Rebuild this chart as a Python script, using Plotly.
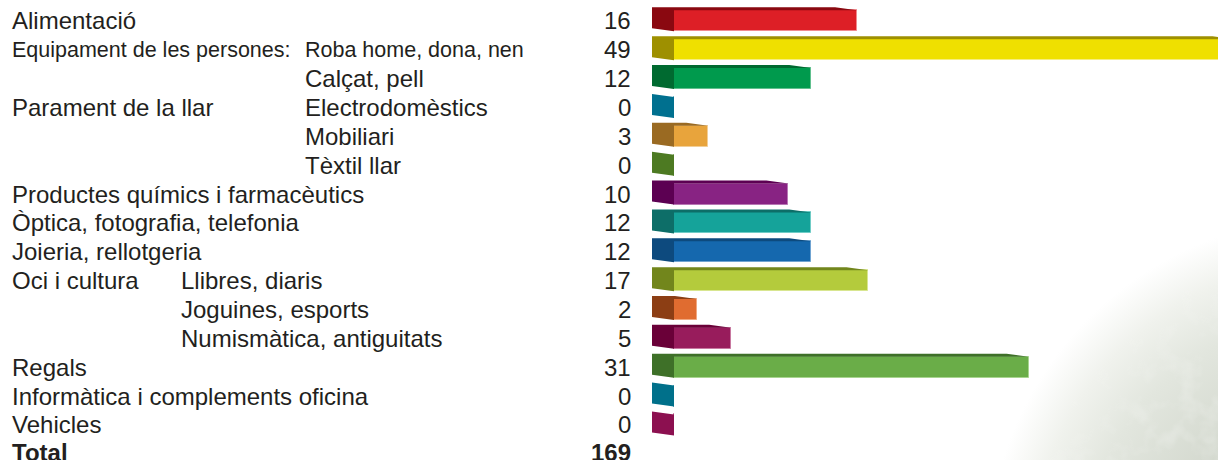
import base64
import plotly.graph_objects as go

# ---------------- data ----------------
groups = ["Alimentació", "Equipament de les persones:", "", "Parament de la llar", "", "",
          "Productes químics i farmacèutics", "Òptica, fotografia, telefonia",
          "Joieria, rellotgeria", "Oci i cultura", "", "", "Regals",
          "Informàtica i complements oficina", "Vehicles"]
subcategories = ["", "Roba home, dona, nen", "Calçat, pell", "Electrodomèstics", "Mobiliari",
                 "Tèxtil llar", "", "", "", "Llibres, diaris", "Joguines, esports",
                 "Numismàtica, antiguitats", "", "", ""]
values = [16, 49, 12, 0, 3, 0, 10, 12, 12, 17, 2, 5, 31, 0, 0]
total_label = "Total"
front_colors = ["#DD1F26", "#EFE000", "#009A4D", "#00708F", "#E8A43C", "#4D7A22",
                "#882383", "#15A39A", "#1568AE", "#B4CB3C", "#E06C30", "#981C5C",
                "#6AAD48", "#00708A", "#8C1050"]
side_colors = ["#8A0810", "#9E9000", "#006A30", "#00708F", "#9A6A22", "#4D7A22",
               "#5C0052", "#0D6E68", "#0D4A7E", "#72861C", "#8C3E14", "#6A0038",
               "#3E7028", "#00708A", "#8C1050"]
edge_colors = ["#F08A8E", "#F6EE80", "#60C08E", "#40A0B8", "#F2CE96", "#80A860",
               "#B878B4", "#70CCC6", "#70A4D2", "#D8E690", "#F0A880", "#C878A0",
               "#A8D490", "#40A0B8", "#C06090"]

# ---------------- geometry (layout) ----------------
W, H = 1218, 460
PPU = 11.44          # pixels per value unit
X0 = 674             # pixel of value 0
ROW0 = 20.8          # pixel centre of first row
PITCH = 28.87        # row pitch in pixels
BAR_H = 21 / PITCH   # front face height, row units
DEPTH_X = 22 / PPU   # oblique depth, value units
DEPTH_Y = 3 / PITCH  # oblique rise, row units

TEXT = "#231F20"
FONT = "Liberation Sans, Arial, Helvetica, sans-serif"
FS = 24
FS_SMALL = 21.5
COL1_X = 10
COL2_X = 303
OCI_X = 179
VAL_X = 633

n = len(values)
rows = list(range(n))

fig = go.Figure()

# side + top faces (oblique 3D effect), computed from the values
for i, v in enumerate(values):
    top = i - BAR_H / 2
    bot = i + BAR_H / 2
    xs = [-DEPTH_X, v - DEPTH_X, v, 0, 0, -DEPTH_X, -DEPTH_X]
    ys = [top - DEPTH_Y, top - DEPTH_Y, top, top, bot, bot - DEPTH_Y, top - DEPTH_Y]
    fig.add_trace(go.Scatter(x=xs, y=ys, mode="lines", fill="toself",
                             fillcolor=side_colors[i], line=dict(width=0),
                             hoverinfo="skip", showlegend=False))

# front faces
fig.add_trace(go.Bar(x=values, y=rows, orientation="h", width=BAR_H, base=0,
                     marker=dict(color=front_colors,
                                 line=dict(color=edge_colors, width=1)),
                     showlegend=False, hoverinfo="skip"))

# text columns
sub_col = {"Oci i cultura": OCI_X}
ann = []
current_group = ""


def label(x, y, text, size, anchor="left"):
    return dict(x=x / W, y=y, xref="paper", yref="y", text=text,
                xanchor=anchor, yanchor="middle", showarrow=False,
                font=dict(family=FONT, size=size, color=TEXT))


for i in range(n):
    if groups[i]:
        current_group = groups[i]
    fs = FS_SMALL if i == 1 else FS
    if groups[i]:
        ann.append(label(COL1_X, i, groups[i], fs))
    if subcategories[i]:
        ann.append(label(sub_col.get(current_group, COL2_X), i, subcategories[i], fs))
    ann.append(label(VAL_X, i, str(values[i]), FS, "right"))
ann.append(label(COL1_X, n - 0.05, "<b>%s</b>" % total_label, FS))
ann.append(label(VAL_X, n - 0.05, "<b>%d</b>" % sum(values), FS, "right"))

# faint photographic backdrop in the lower-right corner
svg = (
    '<svg xmlns="http://www.w3.org/2000/svg" width="1218" height="460">'
    '<defs>'
    '<radialGradient id="g" cx="1330" cy="560" r="450" gradientUnits="userSpaceOnUse">'
    '<stop offset="0" stop-color="#c4cabd"/>'
    '<stop offset="0.33" stop-color="#d3d8ce"/>'
    '<stop offset="0.54" stop-color="#e2e6de"/>'
    '<stop offset="0.66" stop-color="#f0f2ed"/>'
    '<stop offset="0.76" stop-color="#ffffff"/>'
    '</radialGradient>'
    '<radialGradient id="m" cx="1330" cy="560" r="450" gradientUnits="userSpaceOnUse">'
    '<stop offset="0" stop-color="#fff"/>'
    '<stop offset="0.5" stop-color="#fff" stop-opacity="0.7"/>'
    '<stop offset="0.72" stop-color="#fff" stop-opacity="0"/>'
    '</radialGradient>'
    '<mask id="mk"><rect width="1218" height="460" fill="url(#m)"/></mask>'
    '<filter id="t" x="0" y="0" width="100%" height="100%">'
    '<feTurbulence type="fractalNoise" baseFrequency="0.045" numOctaves="3" seed="4"/>'
    '<feColorMatrix type="matrix" values="0 0 0 0 1  0 0 0 0 1  0 0 0 0 1  1.6 0 0 0 -0.75"/>'
    '</filter>'
    '</defs>'
    '<rect width="1218" height="460" fill="url(#g)"/>'
    '<rect width="1218" height="460" filter="url(#t)" mask="url(#mk)" opacity="0.5"/>'
    '</svg>'
)
src = "data:image/svg+xml;base64," + base64.b64encode(svg.encode()).decode()

fig.update_layout(
    width=W, height=H, autosize=False,
    margin=dict(l=0, r=0, t=0, b=0, pad=0),
    paper_bgcolor="white", plot_bgcolor="rgba(0,0,0,0)",
    xaxis=dict(range=[-X0 / PPU, (W - X0) / PPU], visible=False, fixedrange=True),
    yaxis=dict(range=[(H - ROW0) / PITCH, -ROW0 / PITCH], visible=False, fixedrange=True),
    annotations=ann,
    images=[dict(source=src, xref="paper", yref="paper", x=0, y=1, sizex=1, sizey=1,
                 xanchor="left", yanchor="top", sizing="stretch", layer="below")],
    bargap=0,
)

fig.write_html("out.html", config={"displayModeBar": False},
               post_script="document.body.style.margin='0';")
